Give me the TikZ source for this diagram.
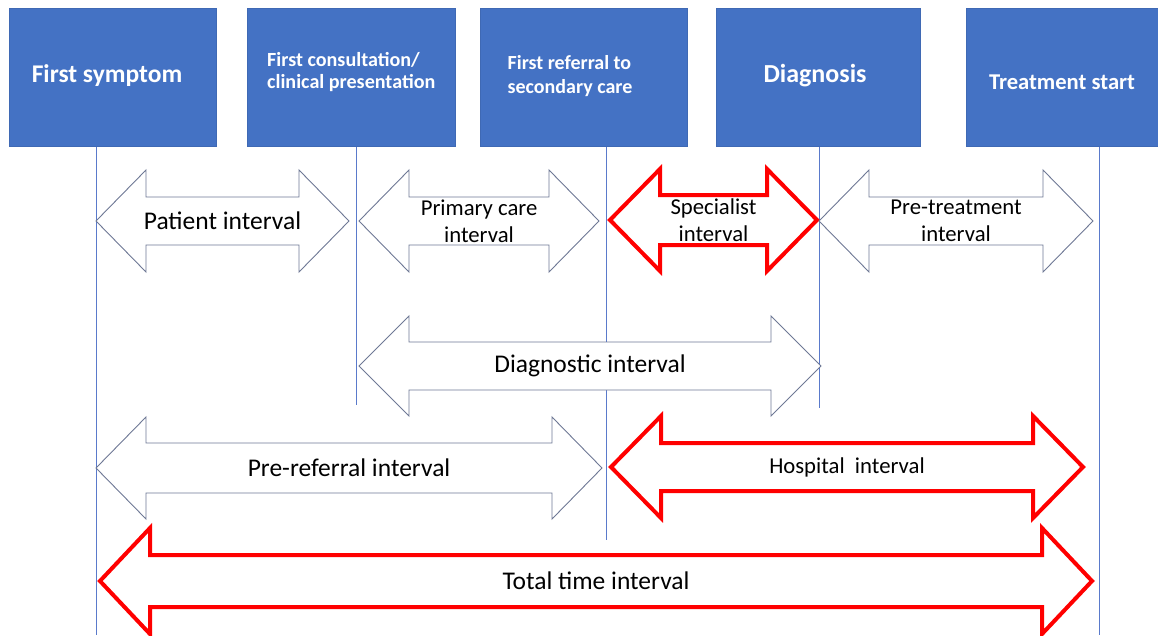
\documentclass[tikz,border=0pt]{standalone}
\usepackage{fontspec}
\setmainfont{Carlito}

\definecolor{boxblue}{HTML}{4472C4}
\definecolor{guideblue}{HTML}{5A7ACB}
\definecolor{outlinegray}{HTML}{6E7895}
\definecolor{hotred}{HTML}{FF0000}

\tikzset{
  stage/.style={fill=boxblue, draw=boxblue!92!black, line width=0.6pt,
    anchor=north west, inner sep=0pt},
  stagetext/.style={text=white, inner sep=0pt},
  guide/.style={draw=guideblue, line width=0.8pt},
  plainarrow/.style={draw=outlinegray, fill=white, line width=0.9pt, line join=miter},
  keyarrow/.style={draw=hotred, fill=white, line width=4pt, line join=miter},
  lbl/.style={inner sep=0pt, align=center, text=black},
  biglbl/.style={lbl, font=\fontsize{25.5}{30}\selectfont},
  smalllbl/.style={lbl, font=\fontsize{22.7}{27}\selectfont},
}

\def\headlen{50}
% #1 style, #2 name, #3 left tip x, #4 right tip x, #5 centre y,
% #6 head half height, #7 shaft half height, #8 label style, #9 text
\newcommand\intarrow[9]{%
  \draw[#1] (#3,#5) -- (#3+\headlen,#5-#6) -- (#3+\headlen,#5-#7) -- (#4-\headlen,#5-#7)
    -- (#4-\headlen,#5-#6) -- (#4,#5) -- (#4-\headlen,#5+#6) -- (#4-\headlen,#5+#7)
    -- (#3+\headlen,#5+#7) -- (#3+\headlen,#5+#6) -- cycle;
  \node[#8] (#2) at ({(#3+#4)/2},#5) {#9};}

\begin{document}
\begin{tikzpicture}[x=1pt,y=-1pt]
  \useasboundingbox (0,0) rectangle (1158,635);

  % milestone boxes
  \node[stage, minimum width=207pt, minimum height=138pt] (b1) at (9,8) {};
  \node[stage, minimum width=208pt, minimum height=138pt] (b2) at (247,8) {};
  \node[stage, minimum width=207pt, minimum height=138pt] (b3) at (480,8) {};
  \node[stage, minimum width=204pt, minimum height=138pt] (b4) at (716,8) {};
  \node[stage, minimum width=200pt, minimum height=138pt] (b5) at (966,8) {};

  \node[stagetext, font=\bfseries\fontsize{25.5}{30}\selectfont] (t1) at (107,76) {First symptom};
  \node[stagetext, align=left, anchor=west, font=\bfseries\fontsize{20.1}{21.5}\selectfont] (t2) at (267,72)
    {First consultation/\\clinical presentation};
  \node[stagetext, align=left, font=\bfseries\fontsize{20}{24}\selectfont] (t3) at (570,76)
    {First referral to\\secondary care};
  \node[stagetext, font=\bfseries\fontsize{26}{30}\selectfont] (t4) at (815,76) {Diagnosis};
  \node[stagetext, font=\bfseries\fontsize{22.6}{27}\selectfont] (t5) at (1062,82) {Treatment start};

  % time guides dropping from each milestone
  \coordinate (g1) at (96,635);
  \coordinate (g2) at (356,405);
  \coordinate (g3) at (606,540);
  \coordinate (g4) at (819,408);
  \coordinate (g5) at (1099,635);
  \draw[guide] (b1.south -| g1) -- (g1);
  \draw[guide] (b2.south -| g2) -- (g2);
  \draw[guide] (b3.south -| g3) -- (g3);
  \draw[guide] (b4.south -| g4) -- (g4);
  \draw[guide] (b5.south -| g5) -- (g5);

  % first row of intervals
  \intarrow{plainarrow}{patient}{96}{349}{221}{51}{24}{biglbl}{Patient interval}
  \intarrow{plainarrow}{primary}{359}{599}{221}{51}{24}{smalllbl}{Primary care\\interval}
  \intarrow{keyarrow}{specialist}{610}{817}{220}{51}{25}{smalllbl}{Specialist\\interval}
  \intarrow{plainarrow}{pretreat}{819}{1093}{221}{51}{24}{smalllbl}{Pre-treatment\\interval}

  % second row
  \intarrow{plainarrow}{diagnostic}{359}{821}{366}{50}{24}{biglbl}{Diagnostic interval}

  % third row
  \intarrow{plainarrow}{prereferral}{96}{602}{468}{51}{25}{biglbl}{Pre-referral interval}
  \intarrow{keyarrow}{hospital}{611}{1083}{467}{51}{24}{smalllbl}{Hospital\ \ interval}

  % overall span
  \intarrow{keyarrow}{total}{100}{1092}{581}{53}{26}{biglbl}{Total time interval}
\end{tikzpicture}
\end{document}
